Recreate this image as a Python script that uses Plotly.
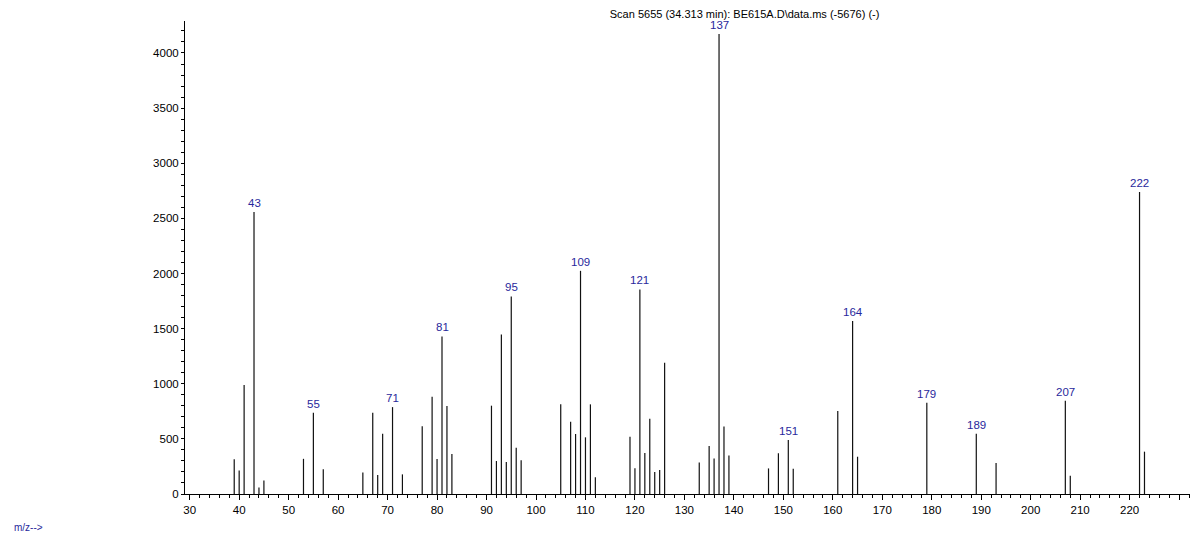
import plotly.graph_objects as go

# m/z values and abundances
mz = [39, 40, 41, 43, 44, 45, 53, 55, 57, 65, 67, 68, 69, 71, 73, 77, 79, 80, 81, 82, 83,
      91, 92, 93, 94, 95, 96, 97, 105, 107, 108, 109, 110, 111, 112,
      119, 120, 121, 122, 123, 124, 125, 126, 133, 135, 136, 137, 138, 139,
      147, 149, 151, 152, 161, 164, 165, 179, 189, 193, 207, 208, 222, 223]
abundance = [316, 213, 988, 2558, 59, 122, 319, 738, 225, 194, 738, 172, 547, 788, 178, 614, 882, 317, 1429, 798, 363,
             801, 299, 1447, 290, 1792, 420, 305, 813, 656, 544, 2024, 514, 813, 151,
             520, 233, 1855, 372, 683, 199, 218, 1190, 286, 435, 322, 4172, 612, 349,
             232, 369, 489, 230, 752, 1568, 338, 828, 547, 281, 846, 166, 2740, 384]
labelled_peaks = [43, 55, 71, 81, 95, 109, 121, 137, 151, 164, 179, 189, 207, 222]

x_tick_vals = list(range(30, 240, 10))
x_tick_text = [str(v) if v <= 220 else "" for v in x_tick_vals]
y_tick_vals = list(range(0, 4500, 500))

title_text = "Scan 5655 (34.313 min): BE615A.D\\data.ms (-5676) (-)"
x_label = "m/z-->"

FONT = "Liberation Sans, Arial, sans-serif"
BLUE = "#28289c"

# stick spectrum built from the data arrays
xs, ys = [], []
for m, a in zip(mz, abundance):
    xs += [m, m, None]
    ys += [0, a, None]

fig = go.Figure()
fig.add_trace(go.Scatter(x=xs, y=ys, mode="lines",
                         line=dict(color="#111111", width=1.2),
                         hoverinfo="skip", showlegend=False))

lab_x = [m for m in mz if m in labelled_peaks]
lab_y = [a for m, a in zip(mz, abundance) if m in labelled_peaks]
for m, a in zip(lab_x, lab_y):
    fig.add_annotation(x=m, y=a, text=str(m), showarrow=False,
                       xanchor="center", yanchor="bottom", yshift=1,
                       font=dict(family=FONT, size=11.5, color=BLUE))

fig.add_annotation(xref="paper", yref="paper", x=-0.172, y=-0.07,
                   text=x_label, showarrow=False, xanchor="left", yanchor="middle",
                   font=dict(family=FONT, size=10, color=BLUE))

fig.update_layout(
    width=1190, height=531,
    margin=dict(l=177, r=8, t=13, b=45, pad=0),
    paper_bgcolor="white", plot_bgcolor="white",
    font=dict(family=FONT, size=11, color="black"),
    title=dict(text=title_text, x=0.619, xref="container", xanchor="center",
               y=0.988, yref="container", yanchor="middle",
               font=dict(family=FONT, size=11, color="black")),
    showlegend=False,
)
fig.update_xaxes(range=[29.05, 232.2], showgrid=False, zeroline=False,
                 showline=True, linecolor="black", linewidth=1,
                 tickmode="array", tickvals=x_tick_vals, ticktext=x_tick_text,
                 ticks="outside", ticklen=5, tickwidth=1, tickcolor="black",
                 tickfont=dict(family=FONT, size=11.5, color="black"),
                 minor=dict(dtick=2, tick0=30, ticks="outside", ticklen=3,
                            tickwidth=1, tickcolor="black", showgrid=False))
fig.update_yaxes(range=[0, 4290], showgrid=False, zeroline=False,
                 showline=True, linecolor="black", linewidth=1,
                 tickmode="array", tickvals=y_tick_vals,
                 ticks="outside", ticklen=3, tickwidth=1, tickcolor="black",
                 tickfont=dict(family=FONT, size=11.5, color="black"),
                 minor=dict(dtick=100, tick0=0, ticks="outside", ticklen=3,
                            tickwidth=1, tickcolor="black", showgrid=False))

fig.write_html("out.html")
